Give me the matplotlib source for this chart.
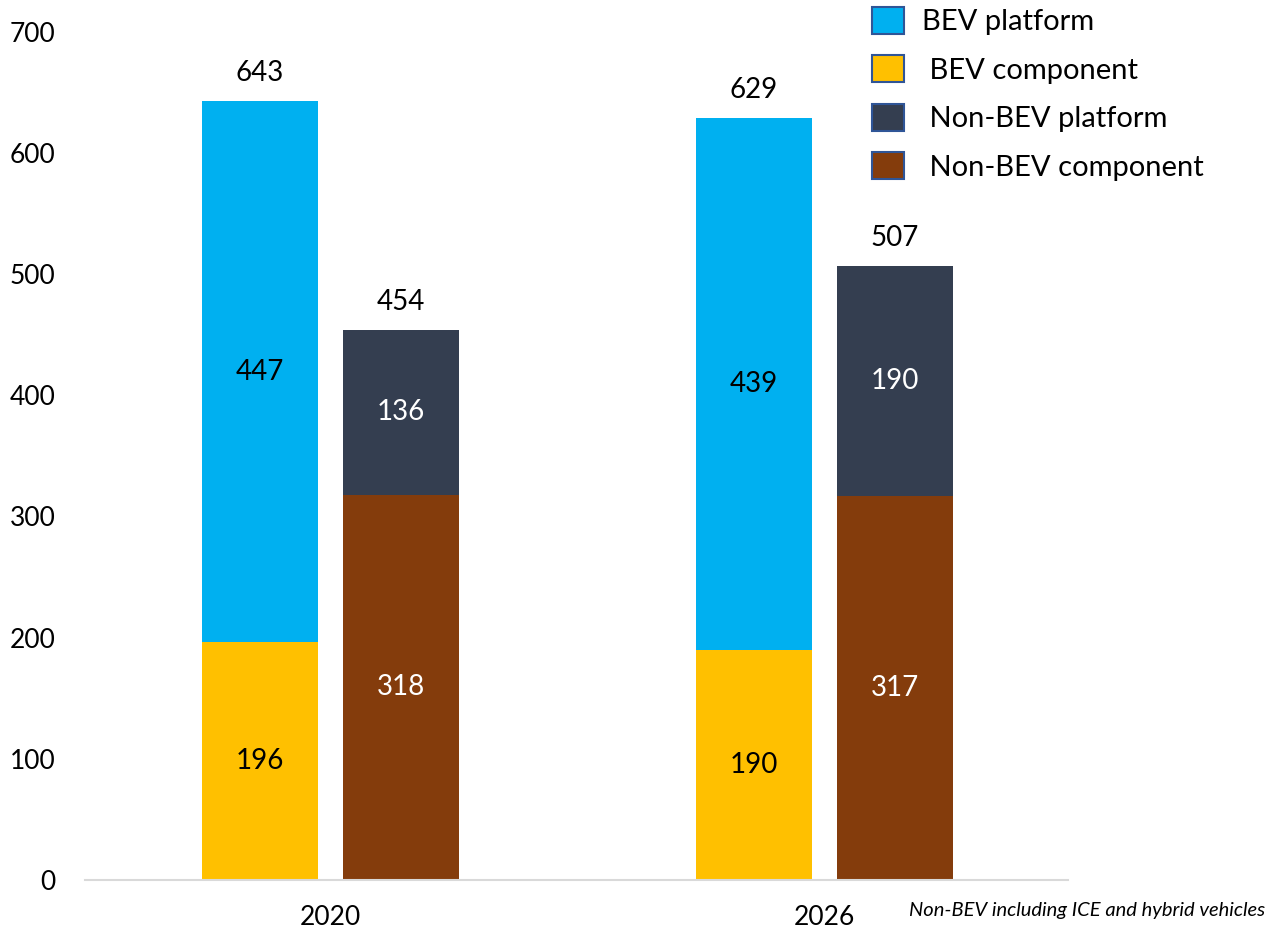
import matplotlib
matplotlib.use("Agg")
import matplotlib.pyplot as plt
from matplotlib.patches import Patch
import numpy as np

plt.rcParams['font.family'] = ['Lato', 'DejaVu Sans']

years = ["2020", "2026"]
bev_component = [196, 190]
bev_platform = [447, 439]
nonbev_component = [318, 317]
nonbev_platform = [136, 190]
bev_total = [643, 629]
nonbev_total = [454, 507]

c_bev_plat = "#00B0F0"
c_bev_comp = "#FFC000"
c_non_plat = "#343E50"
c_non_comp = "#843C0C"

fig = plt.figure(figsize=(12.68, 9.30), dpi=100)
ax = fig.add_axes([0.067, 0.0538, 0.775, 0.912])

x = np.arange(len(years))
w = 0.235
off = 0.143

ax.bar(x - off, bev_component, w, color=c_bev_comp)
ax.bar(x - off, bev_platform, w, bottom=bev_component, color=c_bev_plat)
ax.bar(x + off, nonbev_component, w, color=c_non_comp)
ax.bar(x + off, nonbev_platform, w, bottom=nonbev_component, color=c_non_plat)

fs = 20
for i in range(len(years)):
    ax.text(x[i] - off, bev_component[i] / 2, str(bev_component[i]), ha='center', va='center', fontsize=fs, color='black')
    ax.text(x[i] - off, bev_component[i] + bev_platform[i] / 2, str(bev_platform[i]), ha='center', va='center', fontsize=fs, color='black')
    ax.text(x[i] + off, nonbev_component[i] / 2, str(nonbev_component[i]), ha='center', va='center', fontsize=fs, color='white')
    ax.text(x[i] + off, nonbev_component[i] + nonbev_platform[i] / 2, str(nonbev_platform[i]), ha='center', va='center', fontsize=fs, color='white')
    ax.text(x[i] - off, bev_total[i] + 12, str(bev_total[i]), ha='center', va='bottom', fontsize=fs, color='black')
    ax.text(x[i] + off, nonbev_total[i] + 12, str(nonbev_total[i]), ha='center', va='bottom', fontsize=fs, color='black')

ax.set_xlim(-0.497, 1.493)
ax.set_ylim(0, 700)
ax.set_yticks(range(0, 701, 100))
ax.set_xticks(x)
ax.set_xticklabels(years)
ax.tick_params(axis='both', length=0, labelsize=19)
ax.tick_params(axis='y', pad=21)
ax.tick_params(axis='x', pad=18)
for s in ['top', 'right', 'left']:
    ax.spines[s].set_visible(False)
ax.spines['bottom'].set_color('#D9D9D9')
ax.spines['bottom'].set_linewidth(1.5)

handles = [Patch(facecolor=c, edgecolor='#2F5597', linewidth=1.5) for c in
           [c_bev_plat, c_bev_comp, c_non_plat, c_non_comp]]
labels = ["BEV platform", " BEV component", " Non-BEV platform", " Non-BEV component"]
fig.legend(handles, labels, loc='upper left', bbox_to_anchor=(0.6877, 0.993),
           frameon=False, fontsize=21, handlelength=1.1, handleheight=1.05,
           labelspacing=0.69, handletextpad=0.6, borderpad=0, borderaxespad=0)

fig.text(0.998, 0.021, "Non-BEV including ICE and hybrid vehicles", ha='right', va='center',
         fontsize=14.5, style='italic')

fig.savefig("out.png", dpi=100)
